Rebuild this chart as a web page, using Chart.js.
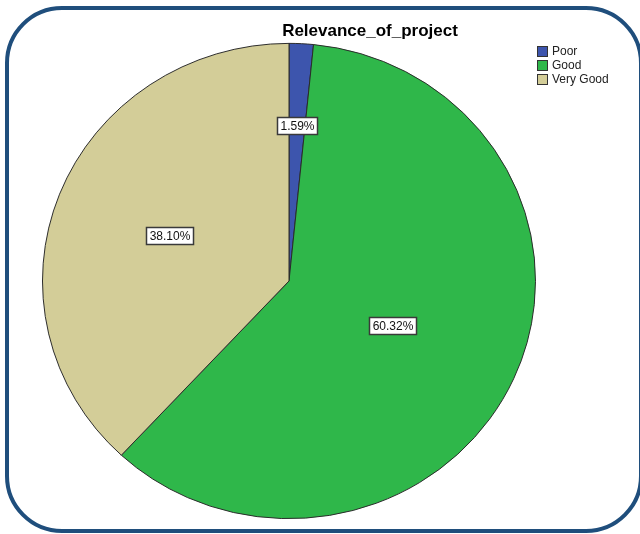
<!DOCTYPE html>
<html>
<head>
<meta charset="utf-8">
<script src="https://cdn.jsdelivr.net/npm/chart.js@4"></script>
<style>
  html, body { margin: 0; padding: 0; background: #fff; }
  #wrap { position: relative; width: 640px; height: 534px; }
</style>
</head>
<body>
<div id="wrap"><canvas id="chart" width="640" height="534"></canvas></div>
<script>
// Relevance_of_project (counts, n = 63)
const categories = ['Poor', 'Good', 'Very Good']
const counts = [1, 38, 24]
const percentLabels = ['1.59%', '60.32%', '38.10%']
const sliceColors = ['#3d55ad', '#2fb74a', '#d3cd98']
const chartTitle = 'Relevance_of_project'

// the original pie is a bit squashed vertically
const SQUASH = 0.964

const decorPlugin = {
  id: 'decor',
  beforeDraw(chart) {
    const ctx = chart.ctx
    ctx.save()
    ctx.fillStyle = '#fff'
    ctx.fillRect(0, 0, chart.width, chart.height)
    ctx.restore()
  },
  beforeDatasetsDraw(chart) {
    const arc = chart.getDatasetMeta(0).data[0]
    const ctx = chart.ctx
    ctx.save()
    ctx.translate(arc.x, arc.y)
    ctx.scale(1, SQUASH)
    ctx.translate(-arc.x, -arc.y)
  },
  afterDatasetsDraw(chart) {
    chart.ctx.restore()
  },
  afterDraw(chart) {
    const ctx = chart.ctx
    ctx.save()
    // rounded frame
    ctx.strokeStyle = '#1f4e7c'
    ctx.lineWidth = 4
    ctx.beginPath()
    ctx.roundRect(7, 8, 634, 523, 55)
    ctx.stroke()

    // title
    ctx.fillStyle = '#000'
    ctx.font = 'bold 17px "Liberation Sans", Arial, sans-serif'
    ctx.textAlign = 'center'
    ctx.textBaseline = 'middle'
    ctx.fillText(chartTitle, 370, 31)

    // legend
    ctx.font = '12px "Liberation Sans", Arial, sans-serif'
    ctx.textAlign = 'left'
    categories.forEach((name, i) => {
      const y = 51 + i * 14
      ctx.fillStyle = sliceColors[i]
      ctx.fillRect(537, y - 5, 10, 10)
      ctx.strokeStyle = '#333'
      ctx.lineWidth = 1
      ctx.strokeRect(537.5, y - 4.5, 10, 10)
      ctx.fillStyle = '#222'
      ctx.fillText(name, 552, y + 1)
    })

    // percent boxes on slices
    const meta = chart.getDatasetMeta(0)
    const radii = [0.656, 0.459, 0.52]
    ctx.font = '12px "Liberation Sans", Arial, sans-serif'
    ctx.textAlign = 'center'
    meta.data.forEach((arc, i) => {
      const p = arc.getProps(['x', 'y', 'startAngle', 'endAngle', 'outerRadius'], true)
      const mid = (p.startAngle + p.endAngle) / 2
      const r = p.outerRadius * radii[i]
      const cx = p.x + Math.cos(mid) * r
      const cy = p.y + Math.sin(mid) * r * SQUASH
      const text = percentLabels[i]
      const w = Math.round(ctx.measureText(text).width) + 6
      const h = 17
      const bx = Math.round(cx - w / 2) + 0.5
      const by = Math.round(cy - h / 2) + 0.5
      ctx.fillStyle = '#fff'
      ctx.fillRect(bx, by, w, h)
      ctx.strokeStyle = '#3a3a3a'
      ctx.lineWidth = 1.5
      ctx.strokeRect(bx, by, w, h)
      ctx.fillStyle = '#111'
      ctx.fillText(text, bx + w / 2, by + h / 2 + 1)
    })
    ctx.restore()
  }
}

new Chart(document.getElementById('chart'), {
  type: 'pie',
  data: {
    labels: categories,
    datasets: [{
      data: counts,
      backgroundColor: sliceColors,
      borderColor: '#2a2a2a',
      borderWidth: 1
    }]
  },
  options: {
    responsive: false,
    animation: false,
    layout: {
      padding: { left: 42, right: 104, top: 34, bottom: 6 }
    },
    plugins: {
      legend: { display: false },
      title: { display: false },
      tooltip: { enabled: false }
    }
  },
  plugins: [decorPlugin]
})
</script>
</body>
</html>
